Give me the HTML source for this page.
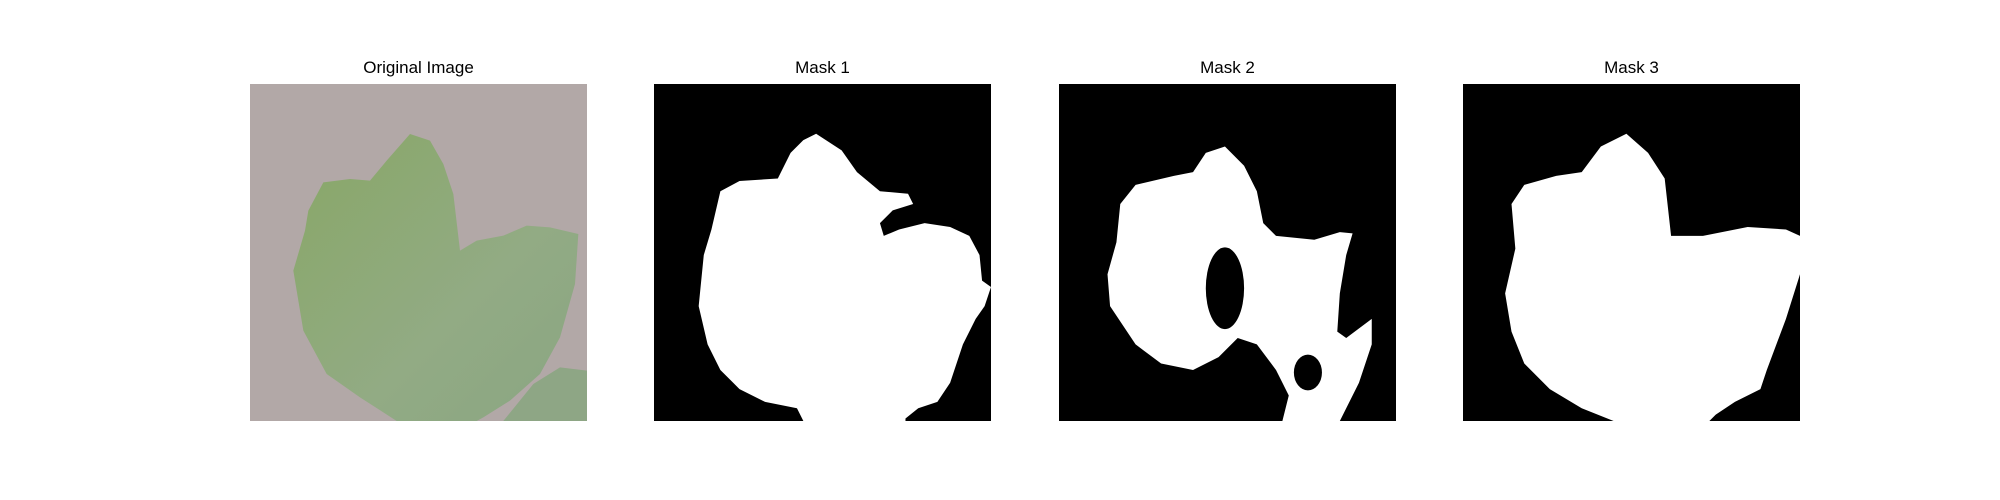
<!DOCTYPE html>
<html><head><meta charset="utf-8"><style>
body{margin:0;background:#fff;width:2000px;height:500px;overflow:hidden;position:relative;font-family:"Liberation Sans","DejaVu Sans",sans-serif}
.t{position:absolute;top:58px;width:337px;text-align:center;font-size:17px;color:#000}
svg.p{position:absolute;top:84px;width:337px;height:337px}
</style></head><body>
<div class="t" style="left:250px">Original Image</div>
<div class="t" style="left:654px">Mask 1</div>
<div class="t" style="left:1059px">Mask 2</div>
<div class="t" style="left:1463px">Mask 3</div>

<svg class="p" style="left:250px" viewBox="0 0 1011 1011">
<defs><linearGradient id="g" x1="0" y1="0" x2="1" y2="1"><stop offset="0" stop-color="#88a766"/><stop offset="0.6" stop-color="#92ab84"/><stop offset="1" stop-color="#8aa582"/></linearGradient></defs>
<rect width="1011" height="1011" fill="#b2a8a7"/>
<path fill="url(#g)" d="M440,1011 L330,940 L230,870 L160,740 L130,560 L165,440 L175,380 L220,295 L300,285 L360,290 L410,230 L480,150 L540,170 L580,240 L610,330 L630,500 L680,470 L760,455 L830,425 L900,430 L985,450 L975,600 L930,760 L870,870 L780,950 L700,1000 L680,1011 Z"/>
<path fill="#8ea685" d="M760,1011 L850,900 L930,850 L1011,860 L1011,1011 Z"/>
</svg>

<svg class="p" style="left:654px" viewBox="0 0 264 264">
<rect width="264" height="264" fill="#000"/>
<path fill="#fff" d="M127,39 L147,52 L159,69 L177,84 L199,86 L203,94 L187,99 L177,109 L180,119 L192,114 L212,109 L232,112 L247,119 L255,134 L257,154 L264,159 L259,174 L252,184 L242,204 L232,234 L222,249 L207,254 L197,262 L197,264 L117,264 L112,254 L87,249 L67,239 L52,224 L42,204 L35,174 L39,134 L45,114 L52,84 L67,76 L97,74 L107,54 L117,44 Z"/>
</svg>

<svg class="p" style="left:1059px" viewBox="0 0 264 264">
<rect width="264" height="264" fill="#000"/>
<path fill="#fff" d="M130,49 L145,64 L155,84 L160,109 L170,119 L200,122 L220,116 L230,117 L225,134 L220,164 L218,194 L225,199 L245,184 L245,204 L235,234 L225,254 L220,264 L175,264 L180,244 L170,224 L155,204 L140,199 L125,214 L105,224 L80,219 L60,204 L40,174 L38,149 L45,124 L48,94 L60,79 L90,72 L105,69 L115,54 Z"/>
<ellipse cx="130" cy="160" rx="15" ry="32" fill="#000"/>
<ellipse cx="195" cy="226" rx="11" ry="14" fill="#000"/>
</svg>

<svg class="p" style="left:1463px" viewBox="0 0 264 264">
<rect width="264" height="264" fill="#000"/>
<path fill="#fff" d="M128,39 L145,54 L158,74 L163,119 L188,119 L223,112 L253,114 L264,119 L264,149 L253,184 L238,224 L233,239 L213,249 L198,259 L193,264 L118,264 L93,254 L68,239 L48,219 L38,194 L33,164 L41,129 L38,94 L48,79 L73,72 L93,69 L108,49 Z"/>
</svg>
</body></html>
